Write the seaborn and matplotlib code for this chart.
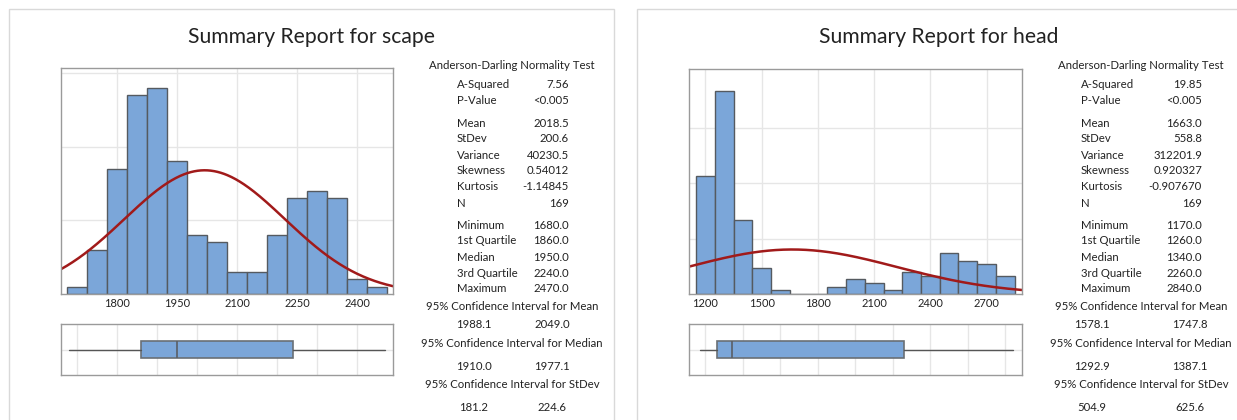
import numpy as np
import pandas as pd
import matplotlib
matplotlib.use("Agg")
import matplotlib.pyplot as plt
from matplotlib.patches import Rectangle
import seaborn as sns

# --- data --------------------------------------------------------------
scape_centers = [1700, 1750, 1800, 1850, 1900, 1950, 2000, 2050,
                 2100, 2150, 2200, 2250, 2300, 2350, 2400, 2450]
scape_counts = [1, 6, 17, 27, 28, 18, 8, 7, 3, 3, 8, 13, 14, 13, 2, 1]
scape_binwidth = 50
scape_ticks = [1800, 1950, 2100, 2250, 2400]
scape_box_grid = [1700, 1800, 1900, 2000, 2100, 2200, 2300, 2400]
scape_xlim = (1659, 2490)
scape_ylim = (0, 30.7)
scape_ygrid = [10, 20, 30]

head_centers = [1200, 1300, 1400, 1500, 1600, 1700, 1800, 1900, 2000,
                2100, 2200, 2300, 2400, 2500, 2600, 2700, 2800]
head_counts = [32, 55, 20, 7, 1, 0, 0, 2, 4, 3, 1, 6, 5, 11, 9, 8, 5]
head_binwidth = 100
head_ticks = [1200, 1500, 1800, 2100, 2400, 2700]
head_box_grid = [1200, 1400, 1600, 1800, 2000, 2200, 2400, 2600, 2800]
head_xlim = (1112, 2889)
head_ylim = (0, 61)
head_ygrid = [15, 30, 45]

stat_labels = ["A-Squared", "P-Value", "Mean", "StDev", "Variance", "Skewness",
               "Kurtosis", "N", "Minimum", "1st Quartile", "Median",
               "3rd Quartile", "Maximum"]
scape_stats = ["7.56", "<0.005", "2018.5", "200.6", "40230.5", "0.54012",
               "-1.14845", "169", "1680.0", "1860.0", "1950.0", "2240.0", "2470.0"]
head_stats = ["19.85", "<0.005", "1663.0", "558.8", "312201.9", "0.920327",
              "-0.907670", "169", "1170.0", "1260.0", "1340.0", "2260.0", "2840.0"]
ci_titles = ["95% Confidence Interval for Mean",
             "95% Confidence Interval for Median",
             "95% Confidence Interval for StDev"]
scape_ci = [("1988.1", "2049.0"), ("1910.0", "1977.1"), ("181.2", "224.6")]
head_ci = [("1578.1", "1747.8"), ("1292.9", "1387.1"), ("504.9", "625.6")]

scape_mean, scape_sd, scape_n = 2018.5, 200.6, 169
head_mean, head_sd, head_n = 1663.0, 558.8, 169
scape_box = dict(whislo=1680, q1=1860, med=1950, q3=2240, whishi=2470)
head_box = dict(whislo=1170, q1=1260, med=1340, q3=2260, whishi=2840)

BAR = "#7BA6D9"
EDGE = "#555a60"
CURVE = "#A11A1A"
FRAME = "#9a9a9a"
GRID = "#e6e6e6"
TXT = "#222222"

sns.set_theme(style="white")
plt.rcParams["font.family"] = ["Lato", "DejaVu Sans"]

W, H = 1237, 420
fig = plt.figure(figsize=(W / 100, H / 100), dpi=100)


def px_axes(x0, y0, x1, y1):
    return fig.add_axes([x0 / W, 1 - y1 / H, (x1 - x0) / W, (y1 - y0) / H])


def style_frame(ax):
    for s in ax.spines.values():
        s.set_visible(True)
        s.set_color(FRAME)
        s.set_linewidth(1.0)


def draw_hist(ax, centers, counts, bw, ticks, xlim, ylim, ygrid, mean, sd, n):
    df = pd.DataFrame({"x": centers, "w": counts})
    lo = centers[0] - bw / 2
    hi = centers[-1] + bw / 2
    for t in ticks:
        ax.axvline(t, color=GRID, lw=1, zorder=0)
    for g in ygrid:
        ax.axhline(g, color=GRID, lw=1, zorder=0)
    sns.histplot(data=df, x="x", weights="w", binwidth=bw, binrange=(lo, hi),
                 ax=ax, color=BAR, edgecolor=EDGE, linewidth=1.0, alpha=1)
    xs = np.linspace(xlim[0], xlim[1], 400)
    ys = n * bw * np.exp(-0.5 * ((xs - mean) / sd) ** 2) / (sd * np.sqrt(2 * np.pi))
    sns.lineplot(x=xs, y=ys, ax=ax, color=CURVE, lw=1.8)
    ax.set_xlim(*xlim)
    ax.set_ylim(*ylim)
    ax.set_xticks(ticks)
    ax.set_xticklabels([str(t) for t in ticks], fontsize=8, color=TXT)
    ax.set_yticks([])
    ax.set_xlabel("")
    ax.set_ylabel("")
    ax.tick_params(axis="x", length=0, pad=3)
    style_frame(ax)


def draw_box(ax, stats, grid, xlim):
    for g in grid:
        ax.axvline(g, color=GRID, lw=1, zorder=0)
    ax.axhline(1, color=GRID, lw=1, zorder=0)
    ax.bxp([dict(stats, fliers=[])], vert=False, widths=0.34, showcaps=False,
           patch_artist=True,
           boxprops=dict(facecolor=BAR, edgecolor="#6a6f75", linewidth=1.2),
           medianprops=dict(color="#5a5f66", linewidth=1.2),
           whiskerprops=dict(color="#555555", linewidth=1.0))
    ax.set_xlim(*xlim)
    ax.set_ylim(0.5, 1.5)
    ax.set_xticks([])
    ax.set_yticks([])
    style_frame(ax)


def draw_stats(cx, lx, rx, vals, ci, c1, c2):
    def fy(y):
        return 1 - y / H
    fs = 8.2
    fig.text(cx / W, fy(65.7), "Anderson-Darling Normality Test", ha="center",
             va="center", fontsize=fs, color=TXT)
    rows_y = [84.3, 101, 123.3, 138.3, 155.7, 171, 186.7, 203.3,
              225.7, 241, 257.3, 273.3, 288.3]
    for lab, val, y in zip(stat_labels, vals, rows_y):
        fig.text(lx / W, fy(y), lab, ha="left", va="center", fontsize=fs, color=TXT)
        fig.text(rx / W, fy(y), val, ha="right", va="center", fontsize=fs, color=TXT)
    title_y = [306.7, 343.3, 384.3]
    val_y = [324.8, 366.7, 407.5]
    for t, (a, b), ty, vy in zip(ci_titles, ci, title_y, val_y):
        fig.text(cx / W, fy(ty), t, ha="center", va="center", fontsize=fs, color=TXT)
        fig.text(c1 / W, fy(vy), a, ha="center", va="center", fontsize=fs, color=TXT)
        fig.text(c2 / W, fy(vy), b, ha="center", va="center", fontsize=fs, color=TXT)


# panel frames
for x0, x1 in [(9, 614), (637, 1245)]:
    fig.add_artist(Rectangle((x0 / W, -0.05), (x1 - x0) / W, 1 - 9 / H + 0.05,
                             transform=fig.transFigure, fill=False,
                             edgecolor="#d9d9d9", lw=1.0))

fig.text(311 / W, 1 - 37 / H, "Summary Report for scape", ha="center", va="center",
         fontsize=15.2, color=TXT)
fig.text(939 / W, 1 - 37 / H, "Summary Report for head", ha="center", va="center",
         fontsize=15.2, color=TXT)

ax1 = px_axes(61, 68, 393, 294)
draw_hist(ax1, scape_centers, scape_counts, scape_binwidth, scape_ticks,
          scape_xlim, scape_ylim, scape_ygrid, scape_mean, scape_sd, scape_n)
ax2 = px_axes(61, 324, 393, 375)
draw_box(ax2, scape_box, scape_box_grid, scape_xlim)

ax3 = px_axes(689, 69, 1022, 294)
draw_hist(ax3, head_centers, head_counts, head_binwidth, head_ticks,
          head_xlim, head_ylim, head_ygrid, head_mean, head_sd, head_n)
ax4 = px_axes(689, 324, 1022, 375)
draw_box(ax4, head_box, head_box_grid, head_xlim)

draw_stats(512, 457, 569, scape_stats, scape_ci, 474, 552)
draw_stats(1141, 1081, 1202, head_stats, head_ci, 1092, 1190)

fig.savefig("out.png", dpi=100, facecolor="white")
